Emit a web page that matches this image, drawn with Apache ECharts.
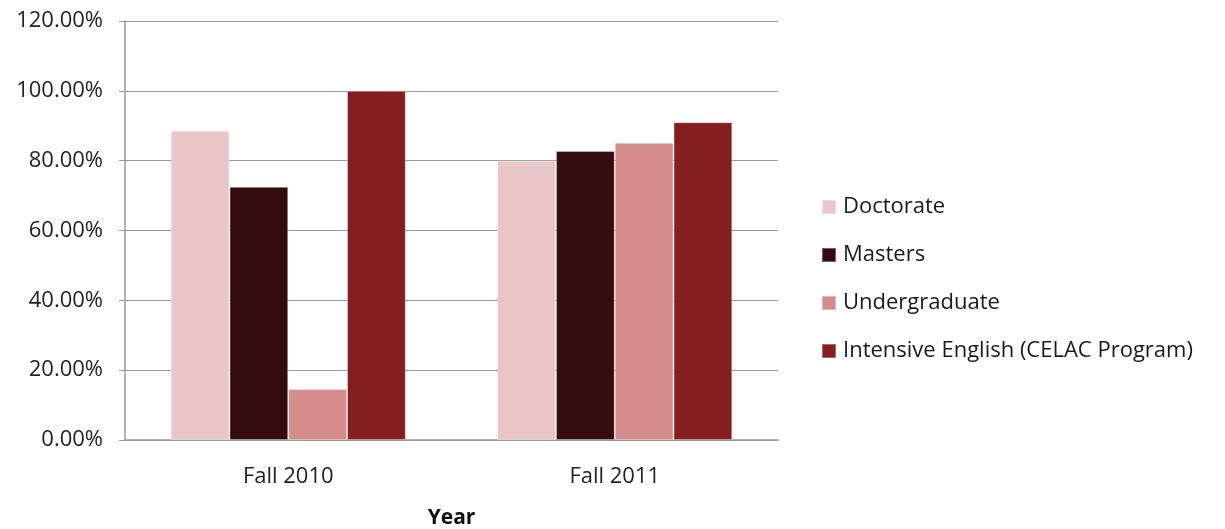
<!DOCTYPE html>
<html>
<head>
<meta charset="utf-8">
<script src="https://cdn.jsdelivr.net/npm/echarts@6/dist/echarts.min.js"></script>
<style>
  html, body { margin: 0; padding: 0; background: #fff; }
  #chart { width: 1225px; height: 529px; }
</style>
</head>
<body>
<div id="chart"></div>
<script>
// categories and series (percent values)
var years = ['Fall 2010', 'Fall 2011'];
var doctorate = [88.6, 80.0];
var masters = [72.5, 82.8];
var undergraduate = [14.6, 85.1];
var intensiveEnglish = [100.0, 91.0];
var yTicks = [0, 20, 40, 60, 80, 100, 120];

var chart = echarts.init(document.getElementById('chart'));
var font = 'Open Sans';

function bar(name, data, color) {
  return {
    name: name,
    type: 'bar',
    data: data,
    barGap: '0%',
    barCategoryGap: '28%',
    itemStyle: { color: color, borderColor: 'rgba(255,255,255,0.35)', borderWidth: 1 }
  };
}

chart.setOption({
  animation: false,
  textStyle: { fontFamily: font },
  grid: { left: 125, right: 447, top: 21, bottom: 89, containLabel: false, outerBoundsMode: 'none' },
  legend: {
    orient: 'vertical',
    left: 821,
    top: 196,
    padding: 0,
    itemWidth: 14,
    itemHeight: 14,
    itemGap: 26,
    icon: 'rect',
    textStyle: { fontFamily: font, fontSize: 22, color: '#1a1a1a', padding: [0, 0, 0, 2] },
    data: ['Doctorate', 'Masters', 'Undergraduate', 'Intensive English (CELAC Program)']
  },
  xAxis: {
    type: 'category',
    data: years,
    name: 'Year',
    nameLocation: 'middle',
    nameGap: 68,
    nameTextStyle: { fontFamily: font, fontSize: 21, fontWeight: 'bold', color: '#111' },
    axisLine: { lineStyle: { color: '#999', width: 1.5 } },
    axisTick: { show: false },
    axisLabel: { fontFamily: font, fontSize: 22, color: '#222', margin: 26 }
  },
  yAxis: {
    type: 'value',
    min: yTicks[0],
    max: yTicks[yTicks.length - 1],
    interval: 20,
    axisLine: { show: true, lineStyle: { color: '#999', width: 1.5 } },
    axisTick: { show: true, length: 6, lineStyle: { color: '#999' } },
    splitLine: { lineStyle: { color: '#9a9a9a', width: 1.2 } },
    axisLabel: {
      fontFamily: font, fontSize: 22, color: '#222', margin: 22,
      formatter: function (v) { return v.toFixed(2) + '%'; }
    }
  },
  series: [
    bar('Doctorate', doctorate, '#E9C7C7'),
    bar('Masters', masters, '#340C0D'),
    bar('Undergraduate', undergraduate, '#D48C8B'),
    bar('Intensive English (CELAC Program)', intensiveEnglish, '#841E20')
  ]
});
</script>
</body>
</html>
